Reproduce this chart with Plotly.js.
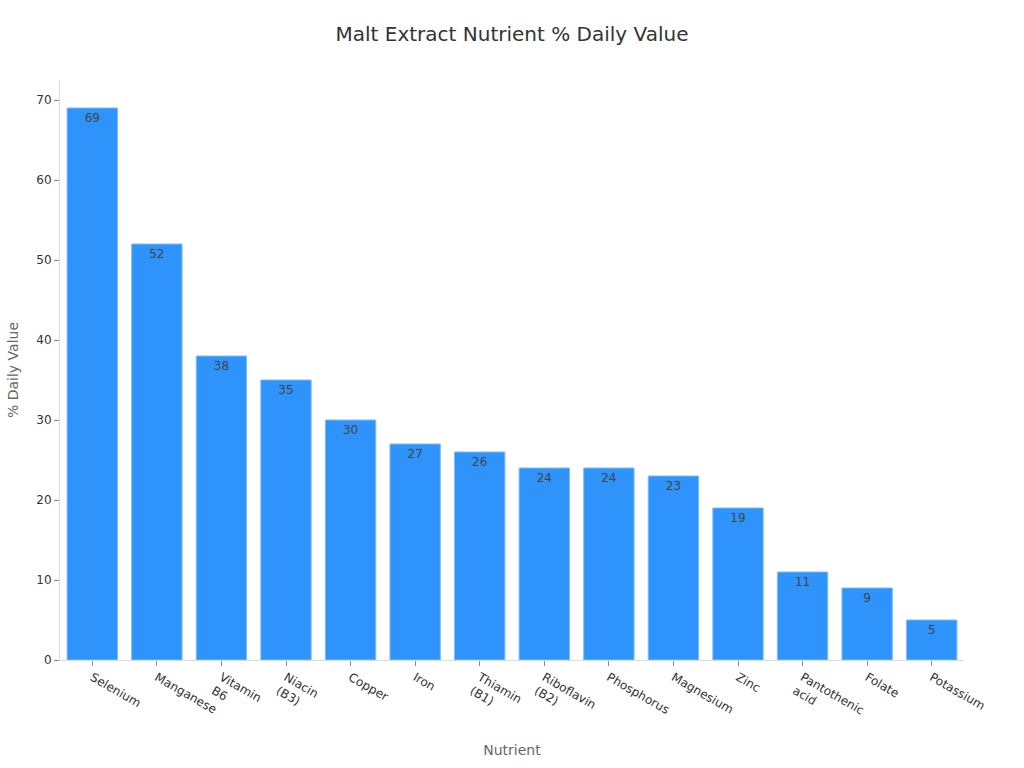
<!DOCTYPE html>
<html>
<head>
<meta charset="utf-8">
<script src="https://cdn.plot.ly/plotly-3.0.1.min.js"></script>
<style>
  html, body { margin: 0; padding: 0; background: #fff; }
  #plot { width: 1024px; height: 768px; }
</style>
</head>
<body>
<div id="plot"></div>
<script>
// nutrient names as shown on the axis
//
const nutrients = ['Selenium', 'Manganese', 'Vitamin<br>B6', 'Niacin<br>(B3)', 'Copper',
                   'Iron', 'Thiamin<br>(B1)', 'Riboflavin<br>(B2)', 'Phosphorus',
                   'Magnesium', 'Zinc', 'Pantothenic<br>acid', 'Folate', 'Potassium'];

// percent of daily value per nutrient
//
const dailyValue = [69, 52, 38, 35, 30, 27, 26, 24, 24, 23, 19, 11, 9, 5];

const yTicks = [0, 10, 20, 30, 40, 50, 60, 70];

const trace = {
  type: 'bar',
  x: nutrients,
  y: dailyValue,
  text: dailyValue.map(String),
  textposition: 'inside',
  insidetextanchor: 'end',
  textfont: { family: 'DejaVu Sans', size: 12, color: '#444' },
  marker: { color: '#2E93FA', line: { color: '#7fbcf7', width: 1 } },
  hoverinfo: 'none'
};

const layout = {
  width: 1024,
  height: 768,
  paper_bgcolor: '#fff',
  plot_bgcolor: '#fff',
  font: { family: 'DejaVu Sans', size: 12, color: '#333' },
  title: { text: 'Malt Extract Nutrient % Daily Value', x: 0.5, y: 0.965,
           font: { size: 20, color: '#333' } },
  bargap: 0.22,
  showlegend: false,
  margin: { t: 80, b: 108, l: 60, r: 60 },
  xaxis: {
    title: { text: 'Nutrient', font: { size: 14, color: '#666' }, standoff: 15 },
    tickangle: 30,
    ticks: 'outside', ticklen: 5, tickcolor: '#888',
    showline: true, linecolor: '#ddd', linewidth: 1,
    showgrid: false, zeroline: false,
    tickfont: { size: 12, color: '#333' }
  },
  yaxis: {
    title: { text: '% Daily Value', font: { size: 14, color: '#666' }, standoff: 14 },
    range: [0, 72.5],
    tickvals: yTicks,
    ticks: 'outside', ticklen: 5, tickcolor: '#888',
    showline: true, linecolor: '#ddd', linewidth: 1,
    showgrid: false, zeroline: false,
    tickfont: { size: 12, color: '#333' }
  }
};

Plotly.newPlot('plot', [trace], layout, { displayModeBar: false, staticPlot: true });
</script>
</body>
</html>
